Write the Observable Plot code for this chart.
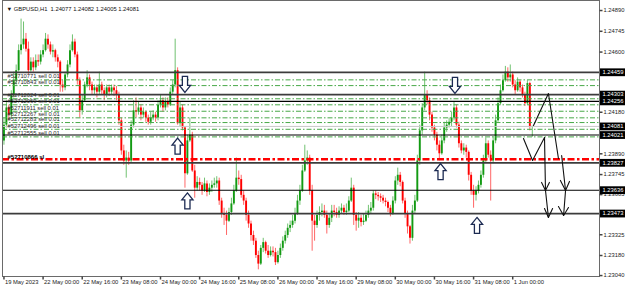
<!DOCTYPE html>
<html><head><meta charset="utf-8">
<script src="https://cdn.jsdelivr.net/npm/d3@7"></script>
<script src="https://cdn.jsdelivr.net/npm/@observablehq/plot@0.6"></script>
<style>html,body{margin:0;padding:0;background:#fff;overflow:hidden}</style>
</head><body><div id="chart"></div>
<script>
// ---- data (GBPUSD H1, 19 May 2023 08:00 -> 1 Jun 2023 08:00) ----
const symbolName = "GBPUSD,H1";
const firstOpen = 1.2398;
const closes = [
1.2409,1.2421,1.2416,1.2430,1.2440,1.2447,1.2461,1.2465,1.2469,1.2462,
1.2447,1.2453,1.2449,1.2454,1.2453,1.2458,1.2461,1.2469,1.2465,1.2460,
1.2461,1.2456,1.2453,1.2437,1.2435,1.2444,1.2451,1.2461,1.2467,1.2458,
1.2440,1.2419,1.2426,1.2437,1.2442,1.2437,1.2433,1.2435,1.2432,1.2437,
1.2433,1.2430,1.2435,1.2432,1.2435,1.2433,1.2430,1.2412,1.2391,1.2384,
1.2386,1.2384,1.2409,1.2419,1.2418,1.2421,1.2416,1.2418,1.2414,1.2411,
1.2414,1.2416,1.2414,1.2423,1.2426,1.2421,1.2425,1.2423,1.2432,1.2437,
1.2447,1.2410,1.2421,1.2407,1.2375,1.2398,1.2402,1.2377,1.2365,1.2369,
1.2367,1.2363,1.2368,1.2362,1.2365,1.2367,1.2368,1.2370,1.2356,1.2347,
1.2346,1.2342,1.2348,1.2354,1.2363,1.2372,1.2371,1.2360,1.2356,1.2346,
1.2340,1.2332,1.2328,1.2318,1.2312,1.2323,1.2327,1.2321,1.2318,1.2321,
1.2320,1.2313,1.2318,1.2323,1.2328,1.2332,1.2337,1.2339,1.2342,1.2347,
1.2356,1.2363,1.2377,1.2384,1.2386,1.2363,1.2342,1.2339,1.2346,1.2348,
1.2349,1.2346,1.2339,1.2344,1.2349,1.2348,1.2346,1.2349,1.2351,1.2348,
1.2349,1.2356,1.2365,1.2346,1.2342,1.2344,1.2341,1.2342,1.2346,1.2349,
1.2351,1.2361,1.2360,1.2359,1.2358,1.2356,1.2355,1.2351,1.2347,1.2356,
1.2370,1.2374,1.2369,1.2356,1.2347,1.2338,1.2330,1.2349,1.2356,1.2384,
1.2405,1.2421,1.2430,1.2426,1.2416,1.2407,1.2402,1.2395,1.2389,1.2398,
1.2407,1.2409,1.2411,1.2414,1.2421,1.2409,1.2396,1.2391,1.2393,1.2390,
1.2374,1.2363,1.2360,1.2363,1.2367,1.2374,1.2384,1.2396,1.2388,1.2384,
1.2398,1.2412,1.2424,1.2433,1.2440,1.2446,1.2442,1.2444,1.2437,1.2433,
1.2439,1.2435,1.2430,1.2424,1.2438,1.24077,1.24081];
const highs = [
1.2414,1.2426,1.2423,1.2433,1.2446,1.2451,1.2465,1.2483,1.2481,1.2473,
1.2467,1.2456,1.2456,1.2458,1.2458,1.2461,1.2465,1.2473,1.2472,1.2467,
1.2465,1.2462,1.2458,1.2454,1.2440,1.2446,1.2454,1.2465,1.2472,1.2469,
1.2460,1.2442,1.2430,1.2439,1.2447,1.2444,1.2439,1.2437,1.2437,1.2446,
1.2439,1.2435,1.2437,1.2437,1.2437,1.2437,1.2436,1.2432,1.2414,1.2395,
1.2391,1.2390,1.2412,1.2426,1.2428,1.2425,1.2423,1.2421,1.2419,1.2416,
1.2418,1.2419,1.2418,1.2426,1.2430,1.2428,1.2428,1.2428,1.2435,1.2440,
1.2469,1.2449,1.2425,1.2423,1.2408,1.2402,1.2414,1.2404,1.2381,1.2373,
1.2372,1.2369,1.2372,1.2370,1.2368,1.2370,1.2372,1.2373,1.2372,1.2358,
1.2351,1.2349,1.2351,1.2358,1.2367,1.2386,1.2377,1.2374,1.2363,1.2358,
1.2349,1.2342,1.2335,1.2330,1.2321,1.2325,1.2330,1.2328,1.2325,1.2324,
1.2324,1.2323,1.2321,1.2326,1.2331,1.2335,1.2340,1.2342,1.2346,1.2351,
1.2360,1.2367,1.2381,1.2395,1.2391,1.2388,1.2367,1.2346,1.2349,1.2352,
1.2354,1.2353,1.2349,1.2347,1.2353,1.2353,1.2351,1.2352,1.2354,1.2353,
1.2354,1.2359,1.2372,1.2367,1.2348,1.2348,1.2346,1.2347,1.2349,1.2353,
1.2355,1.2363,1.2363,1.2362,1.2361,1.2360,1.2358,1.2356,1.2353,1.2359,
1.2373,1.2379,1.2376,1.2370,1.2358,1.2349,1.2339,1.2353,1.2360,1.2388,
1.2409,1.2424,1.2446,1.2433,1.2428,1.2418,1.2409,1.2404,1.2398,1.2402,
1.2411,1.2412,1.2414,1.2418,1.2425,1.2423,1.2411,1.2398,1.2396,1.2395,
1.2391,1.2376,1.2367,1.2366,1.2370,1.2377,1.2388,1.2400,1.2398,1.2391,
1.2401,1.2416,1.2428,1.2437,1.2444,1.2450,1.2449,1.2451,1.2446,1.2440,
1.2442,1.2440,1.2437,1.2432,1.2440,1.2439,1.24082];
const lows = [
1.2395,1.2407,1.2412,1.2414,1.2428,1.2437,1.2446,1.2458,1.2462,1.2460,
1.2444,1.2446,1.2446,1.2447,1.2450,1.2451,1.2456,1.2460,1.2462,1.2458,
1.2456,1.2453,1.2449,1.2432,1.2432,1.2433,1.2442,1.2449,1.2460,1.2456,
1.2437,1.2414,1.2416,1.2425,1.2435,1.2433,1.2430,1.2430,1.2428,1.2430,
1.2430,1.2426,1.2428,1.2429,1.2430,1.2429,1.2426,1.2409,1.2388,1.2381,
1.2372,1.2381,1.2383,1.2407,1.2414,1.2416,1.2412,1.2414,1.2411,1.2409,
1.2409,1.2412,1.2411,1.2412,1.2421,1.2418,1.2419,1.2421,1.2422,1.2430,
1.2435,1.2409,1.2408,1.2405,1.2365,1.2374,1.2397,1.2376,1.2358,1.2363,
1.2363,1.2360,1.2362,1.2359,1.2360,1.2362,1.2365,1.2365,1.2353,1.2344,
1.2339,1.2332,1.2341,1.2346,1.2353,1.2362,1.2367,1.2358,1.2353,1.2342,
1.2337,1.2328,1.2325,1.2316,1.2308,1.2311,1.2320,1.2319,1.2316,1.2317,
1.2317,1.2311,1.2312,1.2316,1.2321,1.2326,1.2330,1.2334,1.2337,1.2340,
1.2346,1.2353,1.2362,1.2376,1.2381,1.2360,1.2321,1.2328,1.2337,1.2342,
1.2345,1.2344,1.2333,1.2337,1.2341,1.2345,1.2344,1.2344,1.2347,1.2346,
1.2346,1.2348,1.2355,1.2339,1.2335,1.2337,1.2338,1.2339,1.2341,1.2344,
1.2347,1.2349,1.2357,1.2356,1.2355,1.2354,1.2352,1.2348,1.2345,1.2346,
1.2354,1.2367,1.2366,1.2354,1.2344,1.2333,1.2326,1.2328,1.2347,1.2355,
1.2381,1.2402,1.2419,1.2423,1.2412,1.2404,1.2398,1.2391,1.2384,1.2388,
1.2396,1.2404,1.2407,1.2408,1.2412,1.2407,1.2393,1.2389,1.2388,1.2386,
1.2370,1.2360,1.2351,1.2356,1.2361,1.2365,1.2372,1.2383,1.2386,1.2356,
1.2382,1.2396,1.2411,1.2423,1.2432,1.2439,1.2439,1.2439,1.2435,1.2430,
1.2432,1.2432,1.2428,1.2422,1.2423,1.2405,1.24005];

const xTickBars = [0,16,32,48,64,80,96,112,128,144,160,176,192,208];
const xTickLabels = ["19 May 2023","22 May 00:00","22 May 16:00","23 May 08:00","24 May 00:00",
  "24 May 16:00","25 May 08:00","26 May 00:00","26 May 16:00","29 May 08:00","30 May 00:00",
  "30 May 16:00","31 May 08:00","1 Jun 00:00"];
const yTicks = [1.24890,1.24745,1.24600,1.24180,1.23890,1.23745,1.23605,1.23325,1.23180,1.23040];

const thickLevels = [1.24459,1.24303,1.23827,1.23473];
const thinLevels = [1.24256,1.24021,1.23636];
const bidPrice = 1.24081;
const boxedPrices = [1.24459,1.24303,1.24256,1.24081,1.24021,1.23827,1.23636,1.23473];

const orderPrices = [1.24406,1.24366,1.24274,1.24232,1.24187,1.24141,1.24108,1.24061,1.24008];
const orderLabels = ["#52710771 sell 0.01","#52710843 sell 0.01","#52712024 sell 0.01","#52712069 sell 0.01",
  "#52711911 sell 0.01","#52712267 sell 0.01","#52712283 sell 0.01","#52712496 sell 0.01","#52712555 sell 0.01"];
const slPrice = 1.23852;
const slLabel = "#52710866 sl";

const arrowBars   = [74.0, 71.0, 75.0, 184.4, 178.5, 193.4];
const arrowPrices = [1.24374, 1.23944, 1.23561, 1.24367, 1.23766, 1.23390];
const arrowDirs   = ["down","up","up","down","up","up"];

// hand-drawn pen strokes: [bar, price]
const penStrokes = [
  [[216.5,1.24088],[222.6,1.24311],[226.7,1.23857]],
  [[212.4,1.23997],[216.1,1.23843],[221.0,1.24004]],
  [[221.0,1.24004],[221.4,1.23634],[222.6,1.23445]],
  [[219.8,1.23690],[221.4,1.23634],[223.0,1.23690]],
  [[221.0,1.23508],[222.6,1.23445],[224.3,1.23508]],
  [[228.0,1.23878],[229.6,1.23634],[228.8,1.23459]],
  [[227.5,1.23704],[229.6,1.23634],[231.2,1.23697]],
  [[226.7,1.23522],[228.8,1.23459],[230.8,1.23515]]
];

// ---- build ----
const bars = closes.map((c, i) => ({i, open: i ? closes[i-1] : firstOpen, close: c, high: highs[i], low: lows[i]}));
const last = bars[bars.length-1];
const title = "\u25BC " + symbolName + "  " + [last.open, last.high, last.low, last.close].map(v => v.toFixed(5)).join(" ");

const GREEN = "#139a13", RED = "#ff0000";
const col = d => d.close >= d.open ? GREEN : RED;

const xDom = [-0.593, 243.48];
const yDom = [1.230335, 1.2496];
const xMin = xDom[0], xMax = xDom[1], yMin = yDom[0];

const upArrow = {draw(c){c.moveTo(0,-8);c.lineTo(5.6,-1);c.lineTo(2.6,-1);c.lineTo(2.6,8);c.lineTo(-2.6,8);c.lineTo(-2.6,-1);c.lineTo(-5.6,-1);c.closePath();}};
const downArrow = {draw(c){c.moveTo(0,8);c.lineTo(5.6,1);c.lineTo(2.6,1);c.lineTo(2.6,-8);c.lineTo(-2.6,-8);c.lineTo(-2.6,1);c.lineTo(-5.6,1);c.closePath();}};
const hTick = {draw(c){c.moveTo(0,0);c.lineTo(3,0);}};
const vTick = {draw(c){c.moveTo(0,0);c.lineTo(0,3);}};
const boxSym = {draw(c){c.rect(0.5,-3.9,26,7.8);}};

const arrows = arrowBars.map((b,k) => ({b, p: arrowPrices[k], dir: arrowDirs[k]}));
const pen = penStrokes.flatMap((s,k) => s.map(([b,p]) => ({b, p, id: k})));
const orders = orderPrices.map((p,k) => ({p, label: orderLabels[k]}));

const FONT = "'Liberation Sans', Arial, 'DejaVu Sans', sans-serif";
const FS = 5.8;

const chart = Plot.plot({
  width: 625, height: 289,
  marginLeft: 2, marginRight: 26, marginTop: 0, marginBottom: 13,
  x: {domain: xDom, axis: null},
  y: {domain: yDom, axis: null},
  color: {type: "identity"},
  style: {background: "white", fontFamily: FONT, fontSize: FS + "px", overflow: "visible"},
  marks: [
    // candles
    Plot.ruleX(bars, {x: "i", y1: "low", y2: "high", stroke: col, strokeWidth: 1, strokeOpacity: 0.6}),
    Plot.ruleX(bars, {x: "i", y1: "open", y2: "close", stroke: col, strokeWidth: 1.9}),
    // bid line
    Plot.ruleY([bidPrice], {stroke: "#c8c8c8", strokeWidth: 1}),
    // order lines
    Plot.ruleY(orders, {y: "p", stroke: "#48a848", strokeWidth: 1, strokeDasharray: "5,2,1.5,2"}),
    Plot.ruleY([slPrice], {stroke: "#ff0000", strokeWidth: 2.4, strokeDasharray: "7,2.5,2.5,2.5"}),
    // horizontal levels
    Plot.ruleY(thickLevels, {stroke: "#3c3c3c", strokeWidth: 1.8}),
    Plot.ruleY(thinLevels, {stroke: "#000", strokeWidth: 1.1}),
    // order labels
    Plot.text(orders, {x: xMin, y: "p", text: "label", dx: 5, dy: -3.6, textAnchor: "start", fontSize: FS, fill: "#2a2a2a"}),
    Plot.text([slPrice], {x: xMin, y: d => d, text: [slLabel], dx: 5, dy: -2, textAnchor: "start", fontSize: 6, fontWeight: "bold", fill: "#000"}),
    // arrows
    Plot.dot(arrows.filter(d => d.dir === "up"), {x: "b", y: "p", symbol: upArrow, fill: "white", stroke: "#1c2a52", strokeWidth: 1.3}),
    Plot.dot(arrows.filter(d => d.dir === "down"), {x: "b", y: "p", symbol: downArrow, fill: "white", stroke: "#1c2a52", strokeWidth: 1.3}),
    // pen strokes
    Plot.line(pen, {x: "b", y: "p", z: "id", stroke: "#111", strokeWidth: 1.1, curve: "linear"}),
    // frame
    Plot.frame({stroke: "#6a6a6a", strokeWidth: 1}),
    // right axis
    Plot.dot(yTicks, {x: xMax, y: d => d, symbol: hTick, stroke: "#444", fill: "none"}),
    Plot.text(yTicks, {x: xMax, y: d => d, text: d => d.toFixed(5), dx: 4, textAnchor: "start", fontSize: FS, fill: "#222"}),
    Plot.dot(boxedPrices, {x: xMax, y: d => d, symbol: boxSym, fill: "#000", stroke: "none"}),
    Plot.text(boxedPrices, {x: xMax, y: d => d, text: d => d.toFixed(5), dx: 3, textAnchor: "start", fontSize: FS, fill: "#fff"}),
    // bottom axis
    Plot.dot(xTickBars, {x: d => d, y: yMin, symbol: vTick, stroke: "#444", fill: "none"}),
    Plot.text(xTickBars, {x: d => d, y: yMin, text: (d, k) => xTickLabels[k], dx: 1, dy: 3.5, textAnchor: "start", lineAnchor: "top", fontSize: FS, fill: "#222"}),
    // title
    Plot.text([title], {frameAnchor: "top-left", text: d => d, dx: 4, dy: 6, textAnchor: "start", lineAnchor: "top", fontSize: FS, fill: "#111"})
  ]
});
document.getElementById("chart").appendChild(chart);
</script></body></html>
